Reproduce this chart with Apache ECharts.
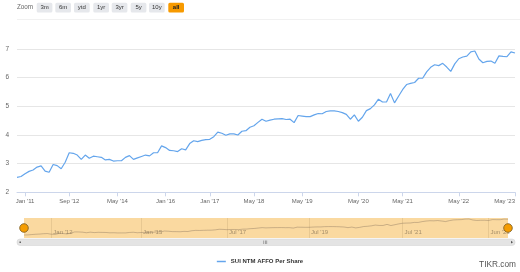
<!DOCTYPE html>
<html><head><meta charset="utf-8">
<script src="https://cdn.jsdelivr.net/npm/echarts@6/dist/echarts.min.js"></script>
<style>html,body{margin:0;padding:0;background:#fff}#c{width:520px;height:272px}</style>
</head><body><div id="c"></div>
<script>
const seriesName = 'SUI NTM AFFO Per Share';
const affo = [
  2.52,2.55,2.65,2.73,2.78,2.88,2.92,2.74,2.70,2.97,
  2.93,2.82,3.05,3.38,3.36,3.30,3.15,3.30,3.19,3.26,
  3.24,3.22,3.13,3.15,3.09,3.10,3.10,3.22,3.28,3.15,
  3.20,3.25,3.30,3.27,3.38,3.38,3.62,3.56,3.46,3.45,
  3.42,3.52,3.48,3.70,3.80,3.77,3.81,3.84,3.85,3.94,
  4.10,4.06,3.99,4.04,4.04,4.00,4.13,4.15,4.27,4.32,
  4.44,4.55,4.48,4.52,4.55,4.56,4.57,4.54,4.55,4.43,
  4.68,4.66,4.64,4.64,4.70,4.75,4.74,4.82,4.84,4.84,
  4.82,4.78,4.72,4.55,4.70,4.48,4.62,4.85,4.92,5.05,
  5.25,5.15,5.15,5.45,5.12,5.35,5.58,5.76,5.80,5.83,
  5.98,5.98,6.20,6.36,6.45,6.42,6.50,6.37,6.22,6.48,
  6.66,6.72,6.75,6.90,6.93,6.65,6.52,6.57,6.58,6.50,
  6.76,6.74,6.73,6.90,6.86
];
const xTickIndex = [2,13,25,37,48,59,71,85,96,110,124];
const xTickLabels = ["Jan '11","Sep '12","May '14","Jan '16","Jan '17","May '18","May '19","May '20","May '21","May '22","May '23"];
const navTickIndex = [7,30,52,73,97,119];
const navTickLabels = ["Jan '12","Jan '15","Jul '17","Jul '19","Jul '21","Jun '23"];
const zoomButtons = ['3m','6m','ytd','1yr','3yr','5y','10y','all'];
const categories = affo.map((_, i) => i);

const FONT = 'Liberation Sans';
const chart = echarts.init(document.getElementById('c'), null, {renderer: 'canvas'});

const graphics = [];
graphics.push({type:'text', left:17, top:4.5, style:{text:'Zoom', fontSize:6.3, fill:'#666', fontFamily:FONT}});
const btnX = [36.7,55.3,74,93.3,111.7,130.7,149,168.3];
zoomButtons.forEach((b, i) => {
  const active = b === 'all';
  graphics.push({type:'rect', shape:{x:btnX[i], y:2.7, width:15.7, height:9.8, r:1.5},
    style:{fill: active ? '#f79a00' : '#e6e8ec'}});
  graphics.push({type:'text', x:btnX[i]+7.85, y:7.6, style:{text:b, fontSize:6, fill: active ? '#222' : '#333',
    fontWeight: active ? 'bold' : 'normal', fontFamily:FONT, align:'center', verticalAlign:'middle'}});
});
graphics.push({type:'rect', shape:{x:17, y:19, width:503, height:0.8}, style:{fill:'#ececec'}});
// navigator handles
[24, 508].forEach(x => graphics.push({type:'circle', shape:{cx:x, cy:228, r:4.3}, style:{fill:'#f59c00', stroke:'#7a5a20', lineWidth:0.8}, z:10}));
// scrollbar
graphics.push({type:'rect', shape:{x:17, y:239, width:498, height:6.5, r:3}, style:{fill:'#e4e4e4', stroke:'#d0d0d0', lineWidth:0.5}});
graphics.push({type:'rect', shape:{x:19.5, y:241.5, width:1.4, height:1.4}, style:{fill:'#555'}});
graphics.push({type:'polygon', shape:{points:[[511,240.8],[513,242.2],[511,243.6]]}, style:{fill:'#555'}});
[263.5,265,266.5].forEach(x => graphics.push({type:'rect', shape:{x:x, y:240.5, width:0.6, height:3.5}, style:{fill:'#777'}}));
graphics.push({type:'text', right:4, top:261, style:{text:'TIKR.com', fontSize:8.3, fill:'#555', fontFamily:FONT}});

chart.setOption({
  animation: false,
  textStyle: {fontFamily: FONT},
  graphic: graphics,
  legend: {data:[seriesName], top:253.5, left:'center', icon:'rect', itemWidth:9, itemHeight:1.5, itemGap:4,
    textStyle:{fontSize:6, fontWeight:'bold', color:'#333', fontFamily:FONT}},
  grid: [
    {left:17, right:5, top:49, bottom:79.7},
    {left:24, right:12, top:218, height:20, show:true, backgroundColor:'#fad9a0', borderWidth:0}
  ],
  xAxis: [
    {type:'category', gridIndex:0, data:categories, boundaryGap:false,
      axisLine:{lineStyle:{color:'#ccd6eb', width:1}},
      axisTick:{length:4, lineStyle:{color:'#ccd6eb'}, interval:(i)=>xTickIndex.includes(i)},
      axisLabel:{interval:(i)=>xTickIndex.includes(i), formatter:(v, i)=>xTickLabels[xTickIndex.indexOf(Number(v))] || '',
        fontSize:6, color:'#666', margin:6, alignMaxLabel:'right', fontFamily:FONT},
      splitLine:{show:false}},
    {type:'category', gridIndex:1, data:categories, boundaryGap:false,
      axisLine:{show:false}, axisTick:{show:false},
      axisLabel:{inside:true, interval:(i)=>navTickIndex.includes(i), formatter:(v)=>navTickLabels[navTickIndex.indexOf(Number(v))] || '',
        fontSize:6, color:'#a68f6a', align:'left', margin:3, padding:[0,0,0,2], fontFamily:FONT},
      splitLine:{show:true, interval:(i)=>navTickIndex.includes(i), lineStyle:{color:'rgba(150,120,80,0.18)', width:1}}}
  ],
  yAxis: [
    {type:'value', gridIndex:0, min:2, max:7, interval:1,
      axisLine:{show:false}, axisTick:{show:false},
      axisLabel:{fontSize:6.5, color:'#666', margin:8, fontFamily:FONT},
      splitLine:{lineStyle:{color:'#e6e6e6', width:1}}},
    {type:'value', gridIndex:1, min:1.7, max:7.2, show:false, splitLine:{show:false}}
  ],
  series: [
    {name:seriesName, type:'line', xAxisIndex:0, yAxisIndex:0, data:affo, showSymbol:false, symbol:'none',
      lineStyle:{color:'#64a5ec', width:1.2}, itemStyle:{color:'#64a5ec'}},
    {name:'nav', type:'line', xAxisIndex:1, yAxisIndex:1, data:affo, showSymbol:false, symbol:'none',
      lineStyle:{color:'rgba(130,110,90,0.5)', width:0.8}, silent:true}
  ]
});
</script></body></html>
